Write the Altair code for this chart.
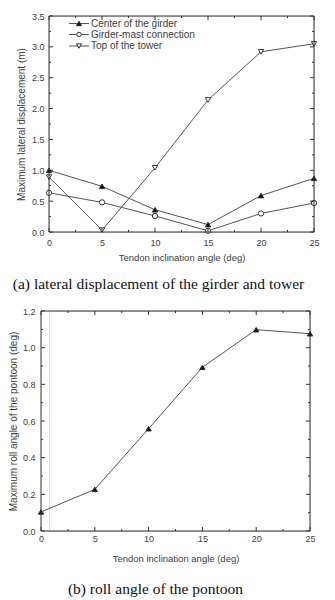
import altair as alt
import pandas as pd

# ---------------- data ----------------
angles = [0, 5, 10, 15, 20, 25]
series_names = ["Center of the girder", "Girder-mast connection", "Top of the tower"]
center_girder = [1.00, 0.74, 0.36, 0.12, 0.59, 0.87]
girder_mast = [0.635, 0.48, 0.26, 0.02, 0.30, 0.47]
tower_top = [0.89, 0.03, 1.04, 2.14, 2.92, 3.05]
roll_angle = [0.104, 0.227, 0.558, 0.893, 1.098, 1.076]

x_major = [0, 5, 10, 15, 20, 25]
x_minor = [2.5, 7.5, 12.5, 17.5, 22.5]
ya_major = [0.0, 0.5, 1.0, 1.5, 2.0, 2.5, 3.0, 3.5]
ya_minor = [0.25, 0.75, 1.25, 1.75, 2.25, 2.75, 3.25]
yb_major = [0.0, 0.2, 0.4, 0.6, 0.8, 1.0, 1.2]
yb_minor = [0.1, 0.3, 0.5, 0.7, 0.9, 1.1]

x_title = "Tendon inclination angle (deg)"
ya_title = "Maximum lateral displacement (m)"
yb_title = "Maximum roll angle of the pontoon (deg)"
cap_a = "(a) lateral displacement of the girder and tower"
cap_b = "(b) roll angle of the pontoon"

shapes = ["triangle-up", "circle", "triangle-down"]
fills = ["#111111", "#ffffff", "#ffffff"]
sizes = [30, 24, 30]

LINE = "#555555"
FRAME = "#333333"
TXT = "#404040"
SANS = "Liberation Sans"
SERIF = "Liberation Serif"


def make_axis(values, title, fmt, label_pad, title_pad, title_size, offset=0):
    return alt.Axis(values=values, title=title, tickSize=0, domain=False, grid=False,
                    labelPadding=label_pad, titlePadding=title_pad, format=fmt,
                    labelFlush=False, labelFont=SANS, labelFontSize=9, labelColor=TXT,
                    titleFont=SANS, titleFontSize=title_size, titleFontWeight="normal",
                    titleColor=TXT, offset=offset)


def tick_layers(xs_major, xs_minor, ys_major, ys_minor, xscale, yscale, xaxis, yaxis,
                x_left, x_right, H):
    layers = []
    for vals, ln in ((ys_major, 4), (ys_minor, 2)):
        d = pd.DataFrame({"value": vals})
        for x0, x1 in ((x_left, x_left + ln), (x_right - ln, x_right)):
            layers.append(
                alt.Chart(d).mark_rule(color=FRAME, strokeWidth=1).encode(
                    y=alt.Y("value:Q", scale=yscale, axis=yaxis),
                    x=alt.value(x0), x2=alt.value(x1))
            )
    for vals, ln in ((xs_major, 4), (xs_minor, 2)):
        d = pd.DataFrame({"angle": vals})
        for y0, y1 in ((H - ln, H), (0, ln)):
            layers.append(
                alt.Chart(d).mark_rule(color=FRAME, strokeWidth=1).encode(
                    x=alt.X("angle:Q", scale=xscale, axis=xaxis),
                    y=alt.value(y0), y2=alt.value(y1))
            )
    return layers


# ---------------- panel (a) ----------------
WA, HA = 265, 216
xs_a = alt.Scale(domain=[0, 25], nice=False, zero=False)
ys_a = alt.Scale(domain=[0, 3.5], nice=False)

df_a = pd.DataFrame({
    "angle": angles * 3,
    "value": center_girder + girder_mast + tower_top,
    "series": [series_names[0]] * 6 + [series_names[1]] * 6 + [series_names[2]] * 6,
})

xa_axis = make_axis(x_major, x_title, "d", 6, 5, 9.5)
ya_axis = make_axis(ya_major, ya_title, ".1f", 5, 5, 10)

lines_a = alt.Chart(df_a).mark_line(color=LINE, strokeWidth=1).encode(
    x=alt.X("angle:Q", scale=xs_a, axis=xa_axis),
    y=alt.Y("value:Q", scale=ys_a, axis=ya_axis),
    detail="series:N",
)
points_a = alt.Chart(df_a).mark_point(filled=True, stroke="#222222", strokeWidth=0.9,
                                      opacity=1, size=28).encode(
    x=alt.X("angle:Q", scale=xs_a, axis=xa_axis),
    y=alt.Y("value:Q", scale=ys_a, axis=ya_axis),
    shape=alt.Shape("series:N", scale=alt.Scale(domain=series_names, range=shapes), legend=None),
    fill=alt.Fill("series:N", scale=alt.Scale(domain=series_names, range=fills), legend=None),
)

legend_layers = []
leg_y = [7.5, 18.5, 30]
for i, name in enumerate(series_names):
    d = pd.DataFrame({"name": [name]})
    legend_layers.append(alt.Chart(d).mark_rule(color=LINE, strokeWidth=1).encode(
        x=alt.value(20), x2=alt.value(40), y=alt.value(leg_y[i])))
    legend_layers.append(alt.Chart(d).mark_point(filled=True, fill=fills[i], stroke="#222222",
                                                 strokeWidth=0.9, opacity=1, size=sizes[i] - 4,
                                                 shape=shapes[i]).encode(
        x=alt.value(30), y=alt.value(leg_y[i])))
    legend_layers.append(alt.Chart(d).mark_text(align="left", baseline="middle", font=SANS,
                                                fontSize=10, color=TXT).encode(
        x=alt.value(42), y=alt.value(leg_y[i]), text="name:N"))

frame_a = alt.Chart(pd.DataFrame({"f": [0]})).mark_rect(
    filled=False, fillOpacity=0, stroke=FRAME, strokeWidth=1).encode(
    x=alt.value(0), x2=alt.value(WA), y=alt.value(0), y2=alt.value(HA))

panel_a = alt.layer(
    lines_a, points_a,
    *tick_layers(x_major, x_minor, ya_major, ya_minor, xs_a, ys_a, xa_axis, ya_axis, 0, WA, HA),
    *legend_layers, frame_a,
).properties(
    width=WA, height=HA,
    title=alt.TitleParams(cap_a, orient="bottom", font=SERIF, fontSize=15.5,
                          fontWeight="normal", color="#111111", offset=15, anchor="middle", dx=-23),
)

# ---------------- panel (b) ----------------
# panel (b) sits 8 px further left than panel (a) in the reference figure
SHIFT = 8
WB, HB = 269, 220
xs_b = alt.Scale(domain=[0, 25], nice=False, zero=False, range=[-SHIFT, WB - SHIFT])
ys_b = alt.Scale(domain=[0, 1.2], nice=False)

df_b = pd.DataFrame({"angle": angles, "value": roll_angle})

xb_axis = make_axis(x_major, x_title, "d", 3, 10, 9.5)
yb_axis = make_axis(yb_major, yb_title, ".1f", 6, 4, 10, offset=SHIFT)

lines_b = alt.Chart(df_b).mark_line(color=LINE, strokeWidth=1).encode(
    x=alt.X("angle:Q", scale=xs_b, axis=xb_axis),
    y=alt.Y("value:Q", scale=ys_b, axis=yb_axis),
)
points_b = alt.Chart(df_b).mark_point(filled=True, fill="#111111", stroke="#222222",
                                      strokeWidth=0.9, opacity=1, size=28,
                                      shape="triangle-up").encode(
    x=alt.X("angle:Q", scale=xs_b, axis=xb_axis),
    y=alt.Y("value:Q", scale=ys_b, axis=yb_axis),
)
frame_b = alt.Chart(pd.DataFrame({"f": [0]})).mark_rect(
    filled=False, fillOpacity=0, stroke=FRAME, strokeWidth=1).encode(
    x=alt.value(-SHIFT), x2=alt.value(WB - SHIFT), y=alt.value(0), y2=alt.value(HB))

panel_b = alt.layer(
    lines_b, points_b,
    *tick_layers(x_major, x_minor, yb_major, yb_minor, xs_b, ys_b, xb_axis, yb_axis,
                 -SHIFT, WB - SHIFT, HB),
    frame_b,
).properties(
    width=WB - SHIFT, height=HB,
    title=alt.TitleParams(cap_b, orient="bottom", font=SERIF, fontSize=15.5,
                          fontWeight="normal", color="#111111", offset=19, anchor="middle", dx=-24),
)

chart = alt.vconcat(panel_a, panel_b, spacing=13).properties(
    padding={"left": 7, "top": 11, "right": 4, "bottom": 0},
).configure_view(
    stroke="transparent", strokeWidth=0,
).configure(background="white")

chart.save("out.html", embed_options={"renderer": "svg", "actions": False})
